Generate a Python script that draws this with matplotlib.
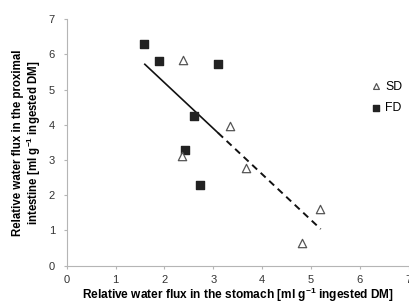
import matplotlib
matplotlib.use("Agg")
import matplotlib.pyplot as plt
import numpy as np

plt.rcParams['font.family'] = ['Liberation Sans', 'DejaVu Sans']
plt.rcParams['mathtext.default'] = 'regular'

# Data
sd_x = [2.39, 3.35, 2.37, 3.68, 5.19, 4.81]
sd_y = [5.84, 3.96, 3.12, 2.78, 1.60, 0.63]
fd_x = [1.59, 1.89, 3.09, 2.61, 2.42, 2.73]
fd_y = [6.29, 5.82, 5.73, 4.24, 3.28, 2.29]
trend_intercept = 7.80
trend_slope = -1.30
trend_solid_x = [1.6, 3.1]
trend_dashed_x = [3.1, 5.2]
x_ticks = [0, 1, 2, 3, 4, 5, 6, 7]
y_ticks = [0, 1, 2, 3, 4, 5, 6, 7]

fig = plt.figure(figsize=(4.09, 3.05), dpi=100)
ax = fig.add_axes([0.163, 0.129, 0.836, 0.808])

gray = '#b5b5b5'
ax.scatter(fd_x, fd_y, marker='s', s=36, color='#222222', zorder=3, label='FD', clip_on=False)
ax.scatter(sd_x, sd_y, marker='^', s=36, facecolor='white', edgecolor='#555555', linewidths=0.9, zorder=3, label='SD')

sx = np.array(trend_solid_x)
dx = np.array(trend_dashed_x)
ax.plot(sx, trend_intercept + trend_slope * sx, color='#111111', lw=1.2, zorder=2)
ax.plot(dx, trend_intercept + trend_slope * dx, color='#111111', lw=1.4, ls=(0, (3.5, 2.5)), zorder=2)

ax.set_xlim(0, 7)
ax.set_ylim(0, 7)
ax.set_xticks(x_ticks)
ax.set_yticks(y_ticks)
for s in ['top', 'right']:
    ax.spines[s].set_visible(False)
for s in ['left', 'bottom']:
    ax.spines[s].set_color(gray)
    ax.spines[s].set_linewidth(0.8)
ax.tick_params(axis='both', colors=gray, labelcolor='#333333', labelsize=8, length=2.5, width=0.8)
ax.tick_params(axis='y', pad=6)
ax.tick_params(axis='x', pad=4)

ax.set_xlabel('Relative water flux in the stomach [ml g$^{-1}$ ingested DM]',
              fontsize=8.6, fontweight='bold', labelpad=1)
ax.set_ylabel('Relative water flux in the proximal\nintestine [ml g$^{-1}$ ingested DM]',
              fontsize=8.3, fontweight='bold', labelpad=4, linespacing=1.1)

handles, labels = ax.get_legend_handles_labels()
leg = ax.legend(handles[::-1], labels[::-1], loc='upper left', bbox_to_anchor=(0.856, 0.771),
                frameon=False, fontsize=8.8, handletextpad=-0.3, labelspacing=0.8,
                markerscale=0.7, borderaxespad=0)

fig.savefig('out.png', dpi=100)
